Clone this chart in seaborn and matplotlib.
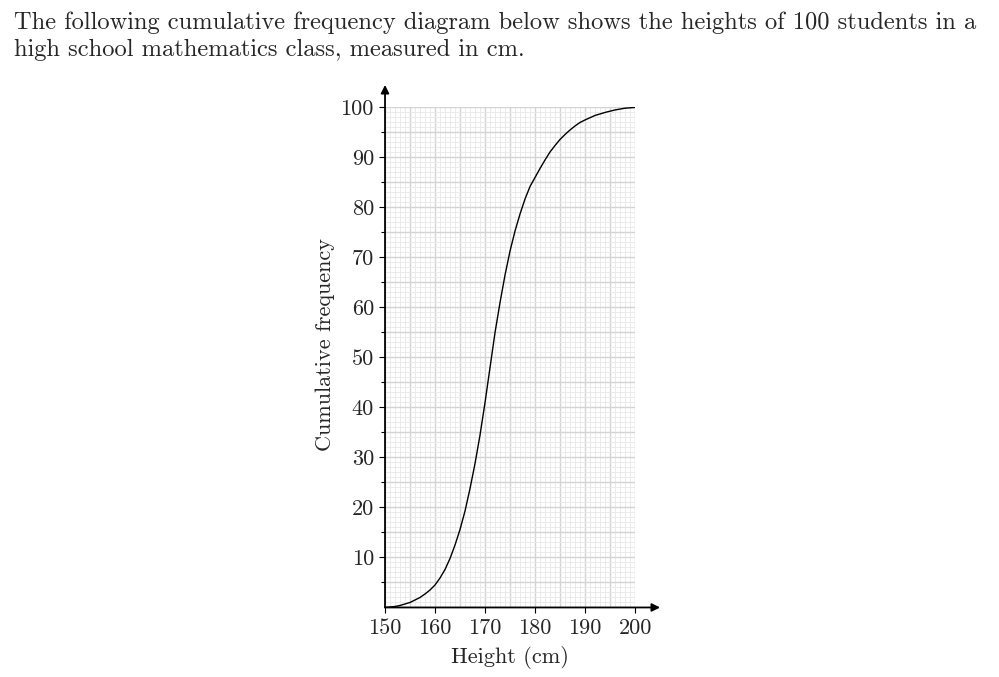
import matplotlib
matplotlib.use("Agg")
import matplotlib.pyplot as plt
import seaborn as sns
import numpy as np
import pandas as pd

# values
heights = [150, 152, 153, 154, 155, 156, 157, 158, 159, 160, 161, 162, 163, 164,
           165, 166, 167, 168, 169, 170, 171, 172, 173, 174, 175, 176, 177, 178,
           179, 180, 181, 182, 183, 184, 185, 186, 187, 188, 189, 190, 192, 194,
           196, 198, 200]
cum_freq = [0, 0.2, 0.4, 0.7, 1.0, 1.5, 2.0, 2.7, 3.5, 4.5, 5.9, 7.6, 9.8, 12.5,
            15.6, 19.3, 23.8, 28.8, 34.5, 41, 48, 55, 61, 66.5, 71.3, 75.3, 78.7, 81.7,
            84.2, 86.0, 87.8, 89.5, 91.1, 92.4, 93.6, 94.6, 95.5, 96.3, 97.0, 97.5, 98.4, 99.0,
            99.5, 99.85, 100]
x_ticks = [150, 160, 170, 180, 190, 200]
y_ticks = [10, 20, 30, 40, 50, 60, 70, 80, 90, 100]

df = pd.DataFrame({"height": heights, "cf": cum_freq})

sns.set_style("white")
plt.rcParams["font.family"] = ["cmr10", "DejaVu Serif"]
plt.rcParams["axes.formatter.use_mathtext"] = True

fig = plt.figure(figsize=(9.99, 6.77), dpi=100)
ax = fig.add_axes([0.3854, 0.1027, 0.2503, 0.7386])

fig.text(0.014, 0.983,
         "The following cumulative frequency diagram below shows the heights of 100 students in a\n"
         "high school mathematics class, measured in cm.",
         ha="left", va="top", fontsize=17.6, linespacing=1.3)

# graph paper
for v in range(150, 201):
    ax.axvline(v, color="#d4d4d4" if v % 5 == 0 else "#e8e8e8",
               lw=1.0 if v % 5 == 0 else 0.6, zorder=0)
for h in range(0, 101):
    ax.axhline(h, color="#d4d4d4" if h % 5 == 0 else "#e8e8e8",
               lw=1.0 if h % 5 == 0 else 0.6, zorder=0)

sns.lineplot(data=df, x="height", y="cf", color="black", lw=1.0,
             estimator=None, sort=False, ax=ax, zorder=3)

ax.set_xlim(150, 200)
ax.set_ylim(0, 100)
for s in ax.spines.values():
    s.set_visible(False)

ax.set_xticks(x_ticks)
ax.set_xticklabels([str(t) for t in x_ticks])
ax.set_yticks(y_ticks)
ax.set_yticklabels([str(t) for t in y_ticks])
ax.set_yticks(list(range(5, 100, 10)), minor=True)
ax.tick_params(axis="both", which="major", direction="out", length=4, width=0.8,
               color="black", labelsize=16, pad=4)
ax.tick_params(axis="y", which="minor", direction="out", length=3, width=0.8, color="black")
ax.tick_params(axis="x", which="both", bottom=True)
ax.tick_params(axis="y", which="both", left=True)

ax.set_xlabel("Height (cm)", fontsize=16, labelpad=6)
ax.set_ylabel("Cumulative frequency", fontsize=16)
ax.yaxis.set_label_coords(-0.2, 0.525)

# axis arrows
ax.annotate("", xy=(1.1, 0), xytext=(0, 0), xycoords="axes fraction",
            arrowprops=dict(arrowstyle="-|>", color="black", lw=1.3,
                            mutation_scale=12, shrinkA=0, shrinkB=0),
            annotation_clip=False, zorder=5)
ax.annotate("", xy=(0, 1.045), xytext=(0, 0), xycoords="axes fraction",
            arrowprops=dict(arrowstyle="-|>", color="black", lw=1.3,
                            mutation_scale=12, shrinkA=0, shrinkB=0),
            annotation_clip=False, zorder=5)

fig.savefig("out.png", dpi=100)
